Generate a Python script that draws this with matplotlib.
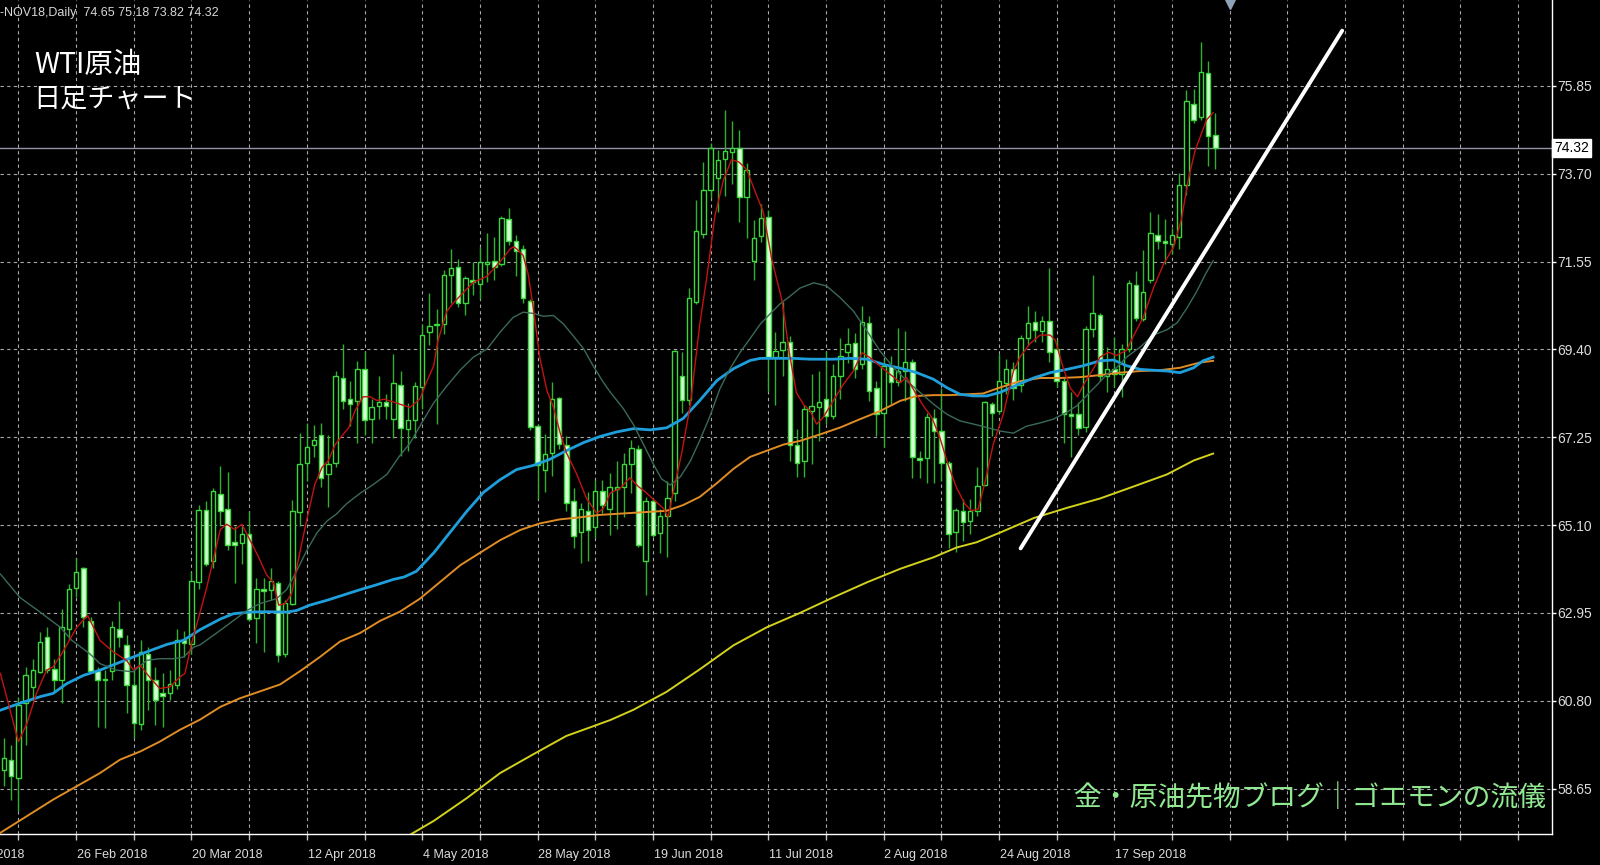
import matplotlib
matplotlib.use('Agg')
import matplotlib.pyplot as plt
import matplotlib.transforms as mtransforms

# WTI daily candles, bar 0 .. 168 (bar 168 = last bar, 5 Oct 2018)
opens = [59.11, 59.36, 58.91, 60.74, 61.14, 61.51, 62.36, 61.59, 61.32, 62.56,
         63.57, 64.04, 62.76, 61.52, 61.34, 61.52, 62.56, 62.16, 61.18, 60.23,
         61.95, 61.32, 60.98, 60.98, 61.18, 62.29, 62.18, 63.70, 65.48, 64.23,
         65.86, 65.50, 64.68, 64.65, 64.88, 62.82, 63.53, 63.52, 63.68, 61.94,
         63.18, 65.41, 66.63, 67.06, 67.31, 66.34, 66.63, 68.70, 68.18, 68.14,
         68.91, 67.69, 68.01, 68.11, 67.69, 68.53, 67.46, 67.66, 68.48, 69.82,
         69.99, 70.02, 71.22, 71.42, 70.53, 71.09, 70.99, 71.49, 71.57, 71.50,
         72.59, 72.06, 71.86, 70.58, 67.53, 66.46, 66.87, 68.21, 67.05, 65.70,
         64.93, 65.44, 65.06, 65.93, 65.50, 65.99, 66.04, 66.60, 66.97, 64.22,
         65.69, 64.91, 65.32, 65.89, 68.76, 68.17, 70.56, 72.23, 73.31, 73.60,
         74.06, 74.24, 74.34, 73.14, 71.57, 72.18, 72.65, 69.21, 69.38, 69.57,
         67.07, 66.67, 67.89, 67.99, 68.18, 67.77, 68.75, 69.34, 69.56, 69.03,
         70.05, 68.46, 67.85, 68.99, 68.59, 68.87, 69.10, 66.75, 66.74, 67.73,
         67.40, 66.61, 64.92, 65.45, 65.19, 65.45, 66.09, 68.06, 67.89, 68.57,
         68.91, 68.53, 69.67, 70.07, 69.86, 70.09, 69.40, 68.62, 67.82, 67.82,
         67.50, 69.90, 70.23, 68.74, 68.91, 68.79, 69.42, 70.98, 70.14, 71.10,
         72.20, 72.06, 71.97, 72.16, 73.42, 75.40, 75.09, 76.16, 74.65]
highs = [59.90, 59.72, 60.90, 61.63, 61.83, 62.48, 62.60, 61.83, 63.05, 63.66,
         64.29, 64.07, 62.84, 61.63, 61.55, 62.76, 63.25, 62.40, 61.55, 62.28,
         62.11, 61.63, 61.47, 61.55, 62.56, 62.52, 63.94, 65.60, 65.68, 66.00,
         66.55, 66.41, 65.08, 65.08, 65.45, 63.81, 63.81, 64.06, 63.73, 63.26,
         65.71, 67.35, 67.60, 67.56, 67.60, 67.31, 68.87, 69.54, 68.62, 69.12,
         69.37, 68.19, 68.74, 68.32, 69.29, 68.87, 68.09, 68.60, 70.02, 70.79,
         70.38, 71.35, 71.86, 71.60, 71.19, 71.55, 71.91, 72.26, 72.16, 72.67,
         72.87, 72.21, 71.96, 70.63, 67.58, 67.33, 68.60, 68.24, 67.27, 66.00,
         65.65, 65.90, 66.21, 66.21, 66.38, 66.67, 66.87, 67.17, 67.07, 65.79,
         65.74, 65.50, 66.18, 69.38, 69.33, 70.90, 73.06, 73.99, 74.44, 74.29,
         75.27, 74.98, 74.78, 73.95, 72.57, 72.96, 72.82, 69.82, 70.56, 69.72,
         67.46, 68.05, 68.79, 68.87, 69.36, 69.03, 69.69, 69.93, 69.81, 70.46,
         70.21, 68.63, 69.16, 69.24, 69.93, 69.85, 69.16, 66.92, 67.85, 67.93,
         68.46, 66.67, 65.53, 65.74, 65.74, 66.51, 68.14, 68.10, 69.28, 69.16,
         69.08, 69.75, 70.47, 70.34, 70.22, 71.40, 69.63, 68.70, 68.36, 68.11,
         69.97, 71.23, 70.30, 69.46, 69.71, 69.54, 71.10, 71.31, 71.82, 72.75,
         72.71, 72.58, 72.37, 73.72, 75.74, 75.78, 76.92, 76.46, 75.18]
lows = [58.71, 58.38, 58.10, 59.72, 60.82, 61.47, 61.47, 60.98, 60.74, 62.28,
        63.33, 62.60, 61.47, 60.17, 60.13, 61.30, 62.11, 60.49, 59.88, 60.09,
        60.57, 60.21, 60.17, 60.82, 61.10, 61.87, 61.95, 63.53, 64.10, 64.05,
        65.08, 64.48, 63.68, 64.15, 62.76, 62.21, 62.00, 63.26, 61.74, 61.87,
        63.14, 65.08, 66.17, 66.76, 66.04, 65.54, 66.51, 67.94, 67.52, 67.10,
        67.31, 67.10, 67.69, 67.69, 67.22, 66.80, 66.92, 67.22, 67.94, 69.51,
        67.58, 69.77, 70.53, 70.43, 70.23, 70.74, 70.63, 71.04, 71.09, 71.45,
        71.96, 71.19, 70.53, 67.43, 65.75, 65.90, 66.31, 66.97, 65.44, 64.53,
        64.17, 64.22, 64.78, 65.39, 64.86, 65.00, 65.30, 65.89, 64.56, 63.38,
        64.81, 64.41, 64.32, 65.69, 67.85, 68.05, 70.50, 72.13, 73.11, 72.77,
        73.16, 73.45, 72.52, 72.13, 71.10, 72.03, 68.39, 68.05, 68.74, 66.67,
        66.28, 66.28, 66.59, 67.16, 67.57, 67.69, 68.18, 69.07, 68.71, 68.91,
        68.14, 67.28, 67.00, 68.06, 68.50, 68.14, 66.26, 66.26, 66.14, 66.14,
        66.18, 64.55, 64.43, 64.72, 64.88, 65.33, 66.06, 67.28, 67.81, 68.30,
        68.15, 68.36, 69.50, 69.59, 69.59, 69.08, 68.49, 67.10, 66.76, 67.31,
        67.39, 69.71, 68.62, 68.36, 68.49, 68.24, 69.33, 70.09, 70.09, 71.02,
        71.86, 71.48, 71.74, 71.86, 73.17, 74.94, 75.02, 73.89, 73.82]
closes = [59.40, 58.95, 60.69, 61.42, 61.55, 62.24, 61.55, 61.32, 62.60, 63.53,
          63.96, 62.84, 61.52, 61.32, 61.32, 62.60, 62.36, 61.18, 60.26, 61.99,
          61.32, 60.82, 60.91, 61.22, 62.28, 62.21, 63.74, 65.48, 64.14, 65.94,
          65.45, 64.61, 64.61, 64.89, 62.80, 63.53, 63.49, 63.73, 61.91, 63.20,
          65.44, 66.59, 67.00, 67.18, 66.26, 66.59, 68.74, 68.14, 68.07, 68.91,
          67.67, 67.98, 68.11, 68.01, 68.57, 67.48, 67.66, 68.50, 69.74, 69.97,
          70.02, 71.22, 71.38, 70.53, 71.14, 71.04, 71.53, 71.53, 71.42, 72.62,
          72.06, 71.80, 70.65, 67.50, 66.58, 66.84, 68.19, 67.09, 65.65, 64.83,
          65.49, 64.98, 65.93, 65.59, 66.04, 66.04, 66.60, 66.99, 64.61, 65.69,
          64.86, 65.32, 65.77, 69.35, 68.17, 70.65, 72.29, 73.31, 74.32, 74.04,
          74.26, 74.34, 73.14, 73.80, 72.13, 72.62, 69.21, 69.35, 69.57, 67.07,
          66.63, 67.95, 68.02, 68.12, 67.77, 68.75, 69.24, 69.52, 68.91, 70.08,
          68.38, 67.81, 68.99, 68.59, 68.87, 69.10, 66.77, 66.69, 67.75, 67.40,
          66.61, 64.88, 65.47, 65.17, 65.45, 66.06, 68.10, 67.85, 68.63, 68.91,
          68.45, 69.67, 70.05, 69.88, 70.09, 69.33, 68.62, 67.82, 67.77, 67.48,
          69.90, 70.30, 68.74, 68.91, 68.79, 69.42, 71.02, 70.18, 70.81, 72.24,
          72.06, 72.00, 72.20, 73.42, 75.49, 75.01, 76.20, 74.62, 74.32]

# moving averages (bar position, price)
red_bar = [-0.5, 2.0, 3.2, 4.5, 5.9, 6.8, 8.0, 10.1, 11.6, 13.3, 15.2, 17.0, 17.9, 18.9,
           20.0, 21.6, 23.0, 24.4, 25.1, 26.0, 27.2, 28.1, 29.0, 30.0, 30.9, 32.0, 33.0,
           34.1, 35.3, 36.4, 37.4, 38.1, 39.0, 39.9, 40.8, 42.0, 43.1, 44.1, 45.0, 45.9,
           46.8, 47.8, 48.7, 49.8, 50.8, 51.7, 52.8, 54.0, 55.4, 56.3, 57.7, 58.6, 59.6,
           60.2, 61.4, 62.3, 63.7, 65.1, 67.0, 68.3, 69.3, 70.2, 70.7, 71.1, 72.0, 72.7,
           73.4, 74.3, 75.3, 76.2, 77.1, 78.0, 79.4, 80.8, 82.2, 83.1, 84.1, 85.4, 86.8,
           88.0, 89.1, 90.3, 91.5, 92.1, 92.8, 94.0, 95.2, 96.5, 97.5, 98.6, 99.8, 100.9,
           101.9, 103.0, 104.4, 105.3, 106.5, 107.9, 109.0, 109.9, 110.9, 111.8, 112.7,
           113.6, 115.0, 116.4, 117.8, 119.0, 120.1, 121.5, 122.9, 124.3, 125.2, 126.4,
           127.5, 128.7, 129.8, 131.0, 132.1, 133.3, 134.2, 135.1, 136.1, 137.2, 138.6,
           139.1, 140.0, 140.9, 142.3, 143.7, 145.1, 145.8, 146.9, 147.9, 148.9, 149.7,
           150.9, 152.0, 153.2, 154.3, 155.7, 156.6, 158.0, 159.4, 160.8, 162.2, 163.3,
           164.3, 165.2, 165.9, 166.8, 167.7]
red_val = [61.47, 59.80, 60.25, 60.98, 61.55, 61.63, 61.95, 62.60, 62.89, 62.28, 61.99,
           61.79, 61.56, 61.67, 61.42, 61.10, 61.14, 61.38, 61.47, 62.20, 62.97, 63.56,
           64.23, 64.99, 65.12, 64.99, 65.12, 64.74, 64.32, 63.89, 63.68, 63.14, 63.18,
           63.43, 64.23, 65.24, 66.09, 66.51, 66.68, 67.06, 67.27, 67.48, 67.90, 68.24,
           68.24, 68.15, 68.18, 68.11, 68.03, 67.98, 68.19, 68.60, 69.00, 69.62, 70.33,
           70.53, 70.79, 71.04, 71.19, 71.45, 71.65, 71.86, 71.91, 71.86, 71.70, 71.24,
           70.43, 69.21, 68.39, 67.99, 67.38, 66.87, 66.36, 65.75, 65.39, 65.50, 65.89,
           65.99, 66.26, 66.04, 65.89, 65.69, 65.50, 65.30, 65.89, 66.87, 68.05, 70.02,
           71.19, 72.67, 73.55, 74.04, 73.99, 73.80, 73.16, 72.77, 71.59, 70.60, 69.23,
           68.34, 68.05, 67.90, 67.57, 67.73, 68.14, 68.54, 68.87, 69.32, 69.20, 68.99,
           68.79, 68.59, 68.71, 68.34, 68.02, 67.73, 67.24, 66.55, 66.02, 65.61, 65.45,
           65.49, 66.18, 67.08, 67.81, 68.19, 68.87, 69.21, 69.54, 69.75, 69.75, 69.63,
           68.95, 68.45, 68.24, 68.53, 68.87, 69.21, 69.33, 69.25, 69.38, 69.71, 70.18,
           70.89, 71.48, 71.90, 72.58, 73.59, 74.27, 74.60, 75.02, 75.19]

gray_bar = [-0.5, 2.2, 5.0, 7.8, 9.4, 11.9, 13.3, 15.6, 17.9, 19.8, 21.6, 23.5, 24.9, 26.3,
            27.2, 29.5, 31.8, 33.7, 35.5, 37.8, 39.2, 40.6, 42.0, 43.4, 44.8, 46.1, 47.5,
            49.4, 51.2, 53.1, 54.9, 56.3, 58.2, 59.6, 61.4, 63.3, 65.1, 67.0, 68.8, 70.6,
            72.0, 73.4, 74.8, 76.2, 77.6, 79.0, 80.4, 81.7, 83.1, 84.1, 85.9, 87.3, 88.7,
            90.1, 91.2, 92.4, 93.8, 95.2, 96.5, 97.9, 99.3, 100.7, 102.1, 103.5, 104.9,
            106.2, 107.6, 109.0, 110.4, 112.3, 114.1, 116.0, 117.8, 119.7, 121.5, 123.4,
            125.2, 127.1, 128.9, 130.8, 132.6, 134.5, 136.3, 138.2, 140.0, 141.8, 143.7,
            145.5, 147.4, 148.8, 150.2, 151.6, 152.9, 154.3, 155.7, 157.6, 159.4, 161.3,
            162.7, 164.0, 165.4, 166.6, 167.7]
gray_val = [63.90, 63.33, 62.97, 62.60, 62.28, 61.95, 61.71, 61.55, 61.51, 61.79, 61.83,
            61.83, 61.87, 62.11, 62.17, 62.46, 62.76, 63.01, 63.18, 63.30, 63.52, 63.98,
            64.48, 64.91, 65.20, 65.37, 65.62, 65.88, 66.09, 66.34, 66.80, 67.10, 67.68,
            68.09, 68.50, 68.90, 69.21, 69.41, 69.82, 70.18, 70.31, 70.28, 70.21, 70.23,
            70.02, 69.72, 69.41, 69.00, 68.60, 68.35, 67.95, 67.56, 67.07, 66.58, 66.23,
            66.08, 66.28, 66.67, 67.17, 67.76, 68.44, 68.93, 69.33, 69.67, 70.02, 70.26,
            70.51, 70.70, 70.90, 71.03, 70.95, 70.66, 70.34, 69.85, 69.36, 68.95, 68.63,
            68.34, 68.06, 67.81, 67.65, 67.57, 67.49, 67.40, 67.35, 67.52, 67.60, 67.69,
            67.86, 68.02, 68.28, 68.53, 68.78, 68.95, 69.21, 69.46, 69.75, 69.88, 70.05,
            70.39, 70.81, 71.23, 71.57]

blue_bar = [-0.5, 2.2, 5.0, 6.8, 8.7, 11.0, 13.3, 15.6, 17.9, 20.3, 22.6, 24.9, 27.2, 30.0,
            31.8, 34.1, 36.4, 39.2, 40.6, 42.4, 44.8, 47.1, 49.4, 51.7, 54.0, 55.5, 57.2,
            59.6, 61.9, 64.2, 66.5, 68.8, 71.1, 73.4, 75.7, 78.0, 80.4, 82.7, 85.0, 87.3,
            89.6, 91.9, 94.2, 96.5, 98.9, 101.2, 103.5, 104.9, 107.2, 109.5, 111.8, 115.0,
            117.3, 119.7, 122.0, 124.3, 126.6, 128.9, 130.8, 132.6, 134.5, 136.3, 138.2,
            140.5, 142.8, 145.1, 147.4, 149.7, 152.0, 153.9, 155.7, 157.6, 159.4, 161.3,
            163.1, 165.0, 166.3, 167.7]
blue_val = [60.57, 60.74, 60.90, 60.98, 61.22, 61.42, 61.55, 61.71, 61.87, 62.03, 62.18,
            62.28, 62.54, 62.80, 62.93, 62.97, 62.98, 62.97, 63.01, 63.14, 63.26, 63.39,
            63.52, 63.64, 63.77, 63.83, 63.97, 64.42, 64.93, 65.44, 65.90, 66.21, 66.46,
            66.56, 66.71, 66.92, 67.12, 67.27, 67.38, 67.46, 67.43, 67.48, 67.71, 68.15,
            68.64, 68.93, 69.13, 69.18, 69.18, 69.18, 69.16, 69.16, 69.18, 69.16, 69.03,
            68.94, 68.83, 68.67, 68.46, 68.30, 68.26, 68.26, 68.35, 68.53, 68.70, 68.83,
            68.91, 69.00, 69.12, 69.14, 69.00, 68.91, 68.89, 68.87, 68.83, 68.95, 69.12,
            69.21]

orange_bar = [-0.5, 3.2, 6.8, 10.5, 13.3, 16.1, 18.9, 21.6, 24.4, 27.2, 30.0, 32.7, 35.5,
              38.3, 41.1, 43.8, 46.6, 49.4, 52.2, 54.9, 57.7, 60.5, 63.3, 66.0, 68.8, 71.6,
              74.3, 77.1, 79.9, 82.7, 87.3, 91.9, 94.2, 96.5, 98.9, 101.2, 103.5, 105.8,
              108.1, 110.4, 113.2, 116.0, 118.7, 121.5, 124.3, 126.6, 128.9, 131.2, 133.5,
              135.8, 138.2, 140.9, 143.7, 146.5, 149.2, 152.0, 154.8, 157.6, 160.3, 163.1,
              165.9, 167.7]
orange_val = [57.57, 57.98, 58.38, 58.75, 59.03, 59.36, 59.56, 59.80, 60.09, 60.34, 60.65,
              60.86, 61.03, 61.20, 61.53, 61.87, 62.25, 62.46, 62.76, 62.98, 63.30, 63.71,
              64.12, 64.42, 64.73, 64.98, 65.14, 65.24, 65.29, 65.35, 65.40, 65.45, 65.59,
              65.79, 66.13, 66.48, 66.77, 66.92, 67.07, 67.16, 67.32, 67.49, 67.69, 67.89,
              68.14, 68.26, 68.28, 68.28, 68.30, 68.32, 68.47, 68.62, 68.70, 68.70, 68.72,
              68.77, 68.83, 68.87, 68.89, 68.95, 69.08, 69.12]

yellow_bar = [56.3, 59.6, 64.2, 68.8, 73.4, 78.0, 81.3, 84.1, 87.3, 91.9, 96.5, 101.2, 105.8,
              110.4, 115.0, 119.7, 124.3, 128.9, 132.1, 134.9, 138.2, 142.8, 147.4, 152.0,
              156.6, 161.3, 165.0, 167.7]
yellow_val = [57.52, 57.86, 58.42, 59.03, 59.49, 59.94, 60.15, 60.33, 60.58, 61.02, 61.57,
              62.16, 62.60, 62.95, 63.33, 63.70, 64.03, 64.31, 64.55, 64.68, 64.92, 65.27,
              65.52, 65.75, 66.04, 66.34, 66.68, 66.85]

# hand drawn trend line (bar, price)
trend_bar = [141.0, 185.6]
trend_val = [64.53, 77.2]

last_price = 74.32
price_ticks = [58.65, 60.80, 62.95, 65.10, 67.25, 69.40, 71.55, 73.70, 75.85]
date_bars = [-6, 10, 26, 42, 58, 74, 90, 106, 122, 138, 154]
date_labels = ['2 Feb 2018', '26 Feb 2018', '20 Mar 2018', '12 Apr 2018', '4 May 2018',
               '28 May 2018', '19 Jun 2018', '11 Jul 2018', '2 Aug 2018', '24 Aug 2018',
               '17 Sep 2018']
shift_bar = 170

jp = ['Noto Sans CJK JP', 'DejaVu Sans']
sans = ['Liberation Sans', 'DejaVu Sans']

fig = plt.figure(figsize=(16, 8.65), dpi=100, facecolor='black')
ax = fig.add_axes([0, 31 / 865, 1552 / 1600, 834 / 865])
ax.set_facecolor('black')
ax.set_xlim(-0.555, 214.7)
ax.set_ylim(57.54, 77.95)

# grid
ax.set_yticks(price_ticks)
ax.set_yticklabels(['%.2f' % v for v in price_ticks])
ax.yaxis.tick_right()
ax.set_xticks(list(range(2, 215, 8)))
ax.set_xticklabels([])
ax.grid(True, color='#a8a8a8', linestyle=(0, (3, 3)), linewidth=0.8, zorder=0)
ax.set_axisbelow(True)
ax.tick_params(axis='x', length=4, color='#c8c8c8', width=1)
ax.tick_params(axis='y', length=3, color='white', width=1, labelcolor='#dcdcdc',
               labelsize=10, pad=1)
for lab in ax.get_yticklabels():
    lab.set_fontfamily(sans)

for s in ['left', 'top']:
    ax.spines[s].set_visible(False)
for s in ['right', 'bottom']:
    ax.spines[s].set_color('white')
    ax.spines[s].set_linewidth(1)

# current price line
ax.axhline(last_price, color='#9494a8', lw=1, zorder=1)

# candles
bars = list(range(len(closes)))
bull = [c >= o for o, c in zip(opens, closes)]
ax.vlines(bars, lows, highs, color='#2fb02f', lw=1, zorder=2)
bottoms = [min(o, c) for o, c in zip(opens, closes)]
heights = [max(abs(c - o), 0.025) for o, c in zip(opens, closes)]
ax.bar(bars, heights, width=0.62, bottom=bottoms,
       color=['black' if b else '#d6ffd6' for b in bull],
       edgecolor='#3bd83b', linewidth=1, zorder=3)

# moving averages
ax.plot(yellow_bar, yellow_val, color='#d2d21c', lw=1.4, zorder=4)
ax.plot(orange_bar, orange_val, color='#df8c24', lw=1.4, zorder=4)
ax.plot(blue_bar, blue_val, color='#1e9fdc', lw=2.0, zorder=4)
ax.plot(gray_bar, gray_val, color='#3a6a5a', lw=1.0, zorder=4)
ax.plot(red_bar, red_val, color='#c41212', lw=1.0, zorder=4)

# trend line
ax.plot(trend_bar, trend_val, color='white', lw=2.8, solid_capstyle='round', zorder=5)

# chart shift marker
ax.plot([shift_bar], [77.85], marker='v', ms=7, color='#8ea2b8', clip_on=False, zorder=6)

# last price box
trans_y = mtransforms.blended_transform_factory(ax.transAxes, ax.transData)
ax.text(1.0015, last_price, '%.2f' % last_price, transform=trans_y, ha='left', va='center',
        color='black', fontsize=10, family=sans, zorder=7,
        bbox=dict(facecolor='white', edgecolor='white', boxstyle='square,pad=0.15'))

# date labels
trans_x = mtransforms.blended_transform_factory(ax.transData, ax.transAxes)
for b, lab in zip(date_bars, date_labels):
    ax.text(b + 0.1, -0.025, lab, transform=trans_x, ha='left', va='center',
            color='#dcdcdc', fontsize=9, family=sans, clip_on=False)

# header and titles
fig.text(0.0, 1 - 13 / 865, '-NOV18,Daily  74.65 75.18 73.82 74.32', color='#d8d8d8',
         fontsize=9, family=sans, va='center', ha='left')
fig.text(34 / 1600, 1 - 65 / 865, 'WTI原油', color='white', fontsize=20.5, family=jp,
         va='center', ha='left')
fig.text(33 / 1600, 1 - 99 / 865, '日足チャート', color='white', fontsize=19.5, family=jp,
         va='center', ha='left')
fig.text(1546 / 1600, 1 - 798 / 865, '金・原油先物ブログ｜ゴエモンの流儀', color='#90e890',
         fontsize=20, family=jp, va='center', ha='right')

fig.savefig('out.png', dpi=100, facecolor='black')
